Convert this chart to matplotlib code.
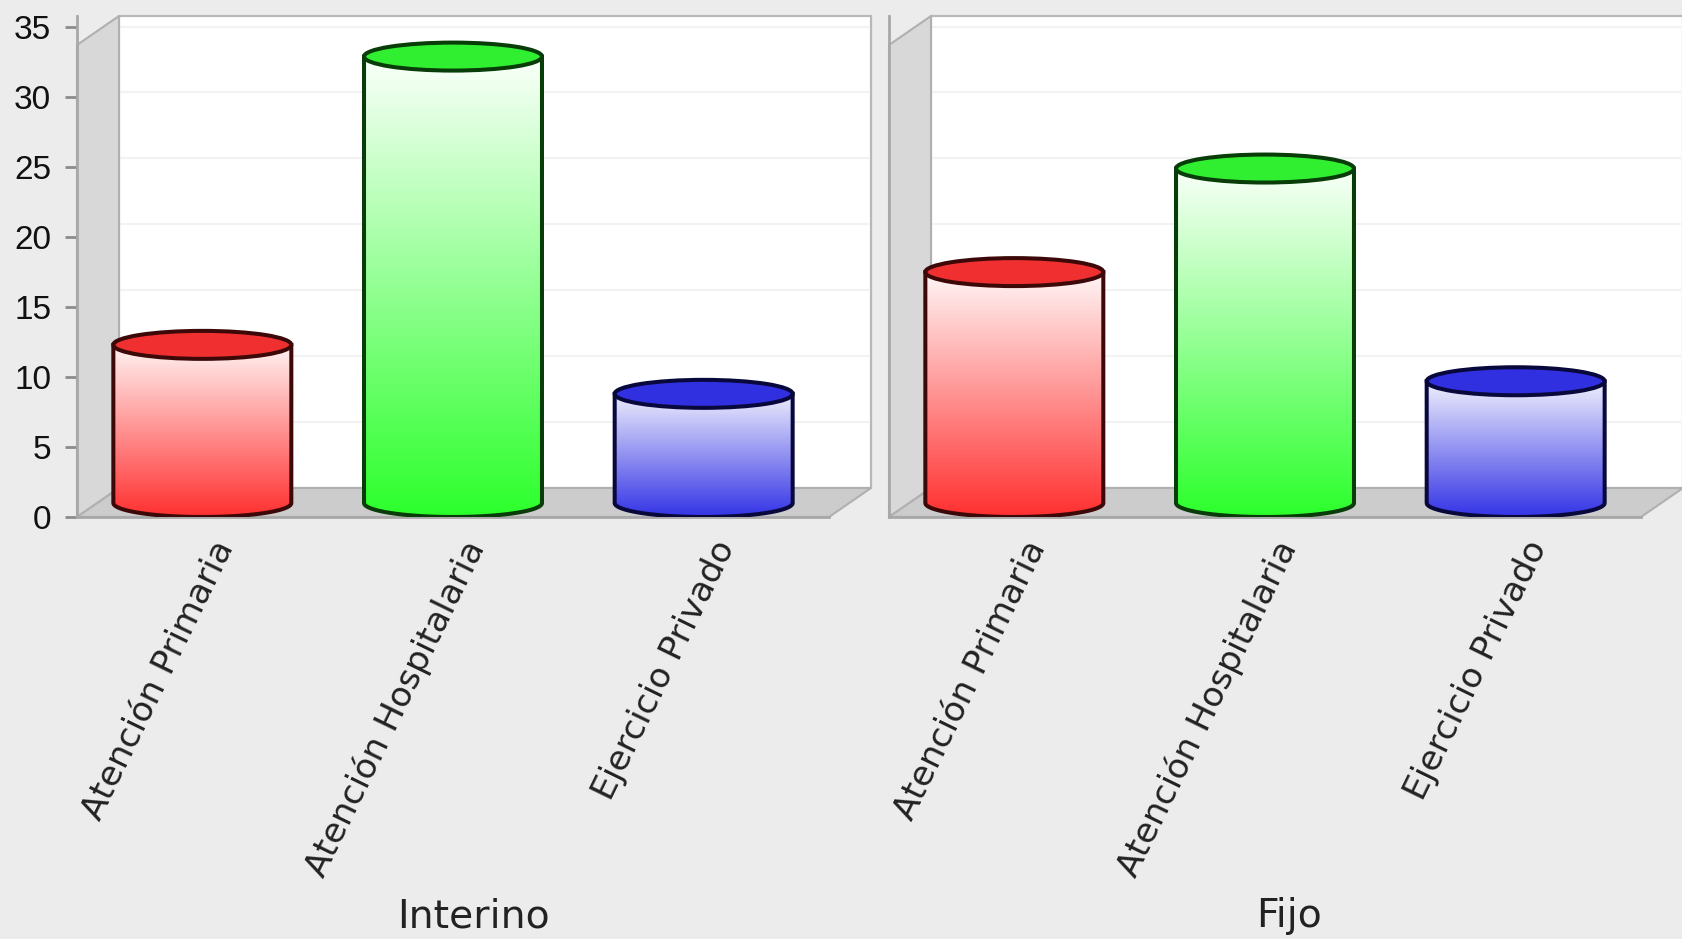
import numpy as np
import matplotlib
matplotlib.use('Agg')
import matplotlib.pyplot as plt
from matplotlib.colors import LinearSegmentedColormap
from matplotlib.patches import Ellipse, Polygon
from matplotlib.transforms import ScaledTranslation

categories = ['Atención Primaria', 'Atención Hospitalaria', 'Ejercicio Privado']
groups = ['Interino', 'Fijo']
interino = [12.3, 32.9, 8.8]
fijo = [17.5, 24.9, 9.7]
yticks = [0, 5, 10, 15, 20, 25, 30, 35]

W, H = 1682, 939
BG = '#ececec'
fills = ['#ff3030', '#2cff2c', '#3434e6']
tops = ['#f03030', '#30ee30', '#3030e0']
edges = ['#3c0808', '#083c08', '#08083c']

# depth of the 3d box, in data units (px / scale)
DX = 42 / 250.7
DY = 29 / 14.0
YMAX = 35.8
WALL = (YMAX - DY) / YMAX   # back wall is drawn a bit shorter than the axis
BAR_W = 0.71
EL_H = 2.0

fig = plt.figure(figsize=(W / 100, H / 100), dpi=100, facecolor=BG)


def make_axes(left, right):
    ax = fig.add_axes([left / W, 1 - 517 / H, (right - left) / W, (517 - 16) / H])
    ax.patch.set_alpha(0)
    ax.set_xlim(-0.5, 2.5)
    ax.set_ylim(0, YMAX)
    for s in ['top', 'right']:
        ax.spines[s].set_visible(False)
    for s in ['left', 'bottom']:
        ax.spines[s].set_color('#a8a8a8')
        ax.spines[s].set_linewidth(2)
    return ax


def draw_box(ax):
    x0, x1 = -0.5, 2.5
    ax.add_patch(Polygon([(x0 + DX, DY), (x1 + DX, DY), (x1 + DX, YMAX), (x0 + DX, YMAX)],
                         fc='white', ec='#b8b8b8', lw=1.6, clip_on=False, zorder=1))
    ax.add_patch(Polygon([(x0, 0), (x0 + DX, DY), (x0 + DX, YMAX), (x0, YMAX - DY)],
                         fc='#d8d8d8', ec='#b0b0b0', lw=1.5, clip_on=False, zorder=1.2))
    ax.add_patch(Polygon([(x0, 0), (x1, 0), (x1 + DX, DY), (x0 + DX, DY)],
                         fc='#cccccc', ec='#b0b0b0', lw=1.5, clip_on=False, zorder=1.2))
    for v in yticks[1:]:
        gy = DY + v * WALL
        ax.plot([x0 + DX, x1 + DX - 0.006], [gy, gy], color='#f2f2f2', lw=1.5,
                solid_capstyle='butt', clip_on=False, zorder=1.1)


def draw_cylinder(ax, x, value, fill, top, edge):
    t = np.linspace(np.pi, 2 * np.pi, 60)
    bx = x + BAR_W / 2 * np.cos(t)
    by = EL_H / 2 + EL_H / 2 * np.sin(t)
    pts = np.vstack([[[x - BAR_W / 2, value]], np.column_stack([bx, by]), [[x + BAR_W / 2, value]]])
    body = Polygon(pts, closed=True, fc='none', ec=edge, lw=2.9, zorder=3.2)
    ax.add_patch(body)
    cmap = LinearSegmentedColormap.from_list('g', ['white', fill])
    grad = np.linspace(0, 1, 200).reshape(-1, 1)
    im = ax.imshow(grad, extent=[x - BAR_W / 2, x + BAR_W / 2, 0, value + 0.8],
                   cmap=cmap, aspect='auto', origin='upper', zorder=3)
    im.set_clip_path(body)
    ax.add_patch(Ellipse((x, value), BAR_W, EL_H, fc=top, ec=edge, lw=2.9, zorder=3.4))


axes = [make_axes(77, 829), make_axes(889, 1641)]
label_x = [0.527, 0.532]
for ax, group, values, lx in zip(axes, groups, [interino, fijo], label_x):
    draw_box(ax)
    for i, v in enumerate(values):
        draw_cylinder(ax, i, v, fills[i], tops[i], edges[i])
    ax.set_xlim(-0.5, 2.5)
    ax.set_ylim(0, YMAX)
    ax.set_xticks(range(3))
    ax.set_xticklabels(categories, rotation=64, ha='right', va='center',
                       rotation_mode='anchor', fontsize=24.8, color='#222222')
    ax.tick_params(axis='x', length=0, pad=18.5)
    shift = ScaledTranslation(0.23, 0, fig.dpi_scale_trans)
    for lab in ax.get_xticklabels():
        lab.set_transform(lab.get_transform() + shift)
    ax.text(lx, -(916 - 517) / 501, group, transform=ax.transAxes, ha='center', va='center',
            fontsize=28.4, color='#222222')

axes[0].set_yticks(yticks)
axes[0].tick_params(axis='y', length=9, width=2, color='#8c8c8c', pad=9.5, labelsize=24)
for lab in axes[0].get_yticklabels():
    lab.set_family('Liberation Sans')
    lab.set_color('#111111')
axes[1].set_yticks([])

fig.savefig('out.png', dpi=100, facecolor=BG)
